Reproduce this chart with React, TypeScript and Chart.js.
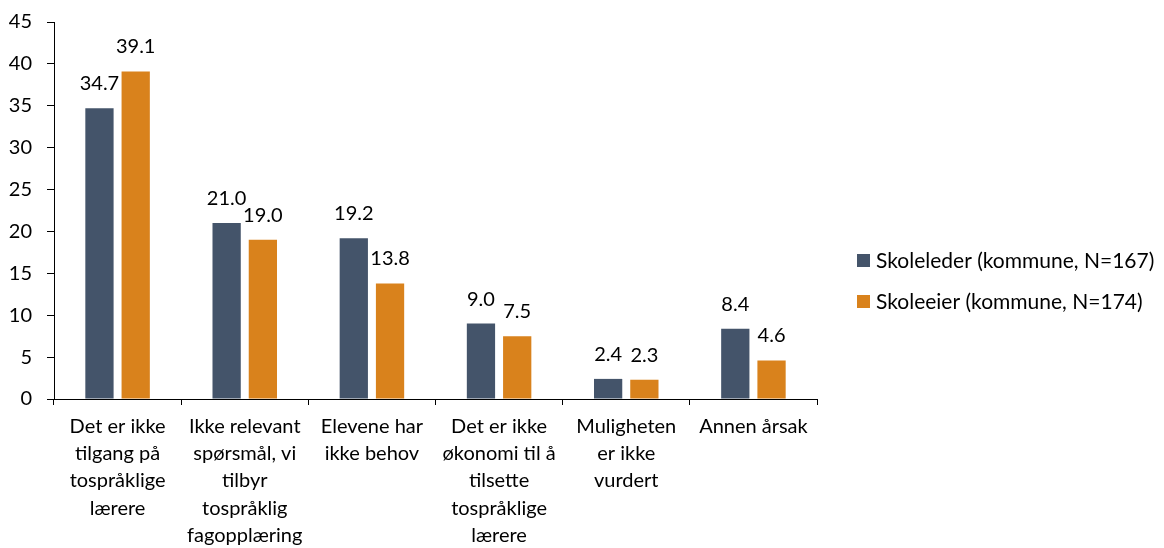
import React, { useEffect, useRef } from "react";
import { Chart, registerables } from "chart.js";

Chart.register(...registerables);

const categories: string[][] = [
  ["Det er ikke", "tilgang på", "tospråklige", "lærere"],
  ["Ikke relevant", "spørsmål, vi", "tilbyr", "tospråklig", "fagopplæring"],
  ["Elevene har", "ikke behov"],
  ["Det er ikke", "økonomi til å", "tilsette", "tospråklige", "lærere"],
  ["Muligheten", "er ikke", "vurdert"],
  ["Annen årsak"],
];
const seriesNames = ["Skoleleder (kommune, N=167)", "Skoleeier (kommune, N=174)"];
const skoleleder = [34.7, 21.0, 19.2, 9.0, 2.4, 8.4];
const skoleeier = [39.1, 19.0, 13.8, 7.5, 2.3, 4.6];
const yMin = 0;
const yMax = 45;
const yStep = 5;

const NAVY = "#44546A";
const ORANGE = "#D9821C";
const FONT = "Lato, 'Open Sans', sans-serif";

const dataLabelPlugin = {
  id: "dataLabels",
  afterDatasetsDraw(chart: any) {
    const ctx = chart.ctx;
    ctx.save();
    ctx.font = `20px ${FONT}`;
    ctx.fillStyle = "#000";
    ctx.textAlign = "center";
    ctx.textBaseline = "alphabetic";
    chart.data.datasets.forEach((ds: any, i: number) => {
      const meta = chart.getDatasetMeta(i);
      meta.data.forEach((el: any, j: number) => {
        ctx.fillText(Number(ds.data[j]).toFixed(1), el.x, el.y - 18);
      });
    });
    ctx.restore();
  },
};

const legendPlugin = {
  id: "customLegend",
  afterDraw(chart: any) {
    const ctx = chart.ctx;
    ctx.save();
    ctx.font = `21px ${FONT}`;
    ctx.textBaseline = "middle";
    ctx.textAlign = "left";
    const x = 857;
    const ys = [261, 302];
    chart.data.datasets.forEach((ds: any, i: number) => {
      ctx.fillStyle = ds.backgroundColor;
      ctx.fillRect(x, ys[i] - 7, 13, 13);
      ctx.fillStyle = "#000";
      ctx.fillText(ds.label, x + 19, ys[i]);
    });
    ctx.restore();
  },
};

export default function App() {
  const ref = useRef<HTMLCanvasElement>(null);
  useEffect(() => {
    document.body.style.margin = "0";
    const chart = new Chart(ref.current as HTMLCanvasElement, {
      type: "bar",
      data: {
        labels: categories as any,
        datasets: [
          {
            label: seriesNames[0],
            data: skoleleder,
            backgroundColor: NAVY,
            categoryPercentage: 0.57,
            barPercentage: 0.78,
          },
          {
            label: seriesNames[1],
            data: skoleeier,
            backgroundColor: ORANGE,
            categoryPercentage: 0.57,
            barPercentage: 0.78,
          },
        ],
      },
      options: {
        responsive: false,
        animation: false,
        devicePixelRatio: 1,
        layout: { padding: { left: 0, top: 22, right: 347, bottom: 0 } },
        plugins: {
          legend: { display: false },
          tooltip: { enabled: false },
        },
        scales: {
          x: {
            grid: {
              display: true,
              drawOnChartArea: false,
              drawTicks: true,
              tickLength: 6,
              color: "#000",
              offset: true,
            },
            border: { display: true, color: "#000", width: 1 },
            ticks: {
              color: "#000",
              padding: 8,
              maxRotation: 0,
              autoSkip: false,
              font: { family: FONT, size: 20, lineHeight: 1.36 },
            },
            afterFit: (scale: any) => {
              scale.height = 149;
              scale.paddingLeft = 0;
              scale.paddingRight = 0;
            },
          },
          y: {
            min: yMin,
            max: yMax,
            grid: {
              display: true,
              drawOnChartArea: false,
              drawTicks: true,
              tickLength: 7,
              color: "#000",
            },
            border: { display: true, color: "#000", width: 1 },
            ticks: {
              stepSize: yStep,
              color: "#000",
              padding: 15,
              font: { family: FONT, size: 20 },
            },
            afterFit: (scale: any) => {
              scale.width = 54;
              scale.paddingTop = 0;
              scale.paddingBottom = 0;
            },
          },
        },
      },
      plugins: [dataLabelPlugin, legendPlugin],
    });
    return () => chart.destroy();
  }, []);
  return <canvas ref={ref} width={1164} height={548} />;
}
